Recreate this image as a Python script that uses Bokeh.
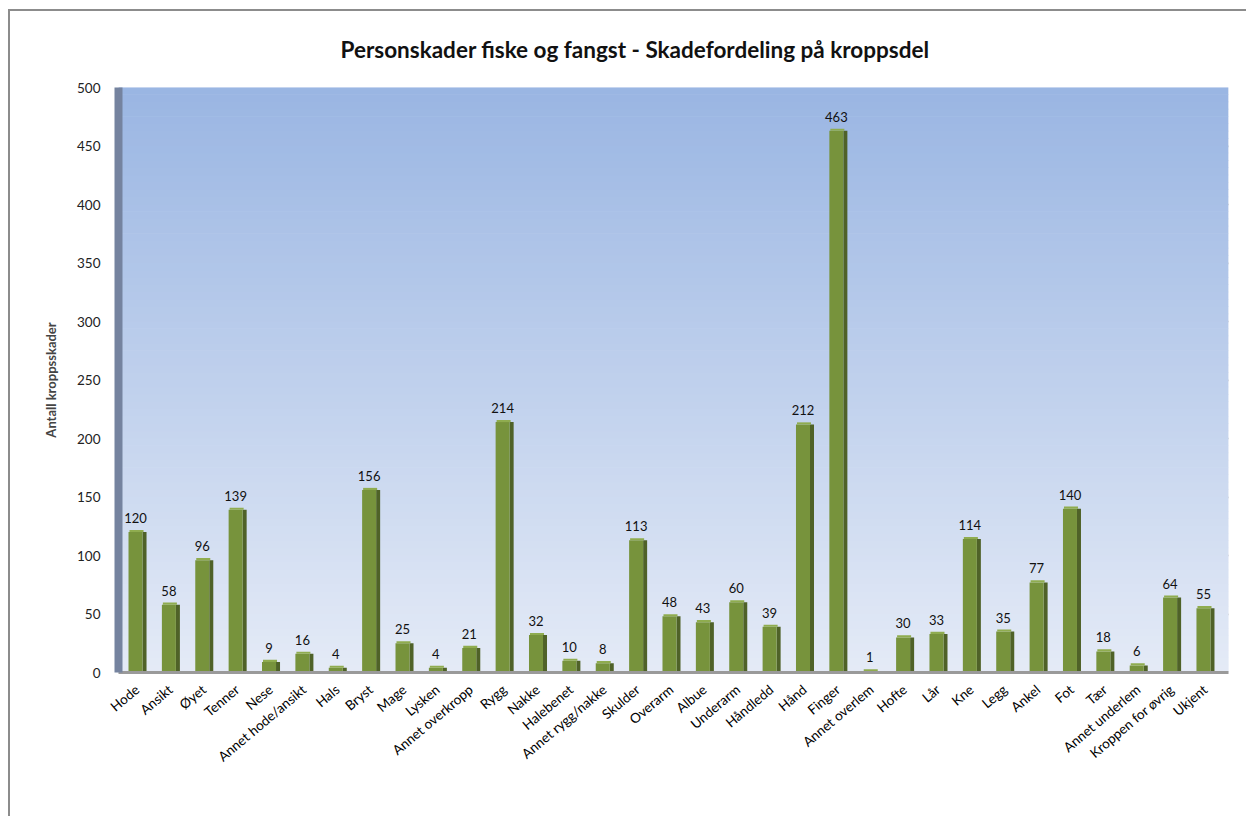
import numpy as np
from bokeh.plotting import figure
from bokeh.models import ColumnDataSource, FixedTicker, Range1d, LabelSet
from bokeh.core.properties import value
from bokeh.embed import file_html
from bokeh.resources import INLINE

categories = ["Hode", "Ansikt", "Øyet", "Tenner", "Nese", "Annet hode/ansikt", "Hals",
              "Bryst", "Mage", "Lysken", "Annet overkropp", "Rygg", "Nakke", "Halebenet",
              "Annet rygg/nakke", "Skulder", "Overarm", "Albue", "Underarm", "Håndledd",
              "Hånd", "Finger", "Annet overlem", "Hofte", "Lår", "Kne", "Legg", "Ankel",
              "Fot", "Tær", "Annet underlem", "Kroppen for øvrig", "Ukjent"]
values = [120, 58, 96, 139, 9, 16, 4, 156, 25, 4, 21, 214, 32, 10, 8, 113, 48, 43, 60,
          39, 212, 463, 1, 30, 33, 114, 35, 77, 140, 18, 6, 64, 55]
y_ticks = [0, 50, 100, 150, 200, 250, 300, 350, 400, 450, 500]

FONT = "Lato"
n = len(categories)
xs = np.arange(n)
X0, X1 = -0.56, n - 0.30

p = figure(width=1238, height=807, output_backend="svg", toolbar_location=None,
           x_range=Range1d(X0, X1), y_range=Range1d(0, 500),
           min_border_left=108, min_border_right=20, min_border_top=76, min_border_bottom=146)
p.styles = {"margin-left": "8px", "margin-top": "9px",
            "border-left": "2px solid #8c8c8c", "border-top": "2px solid #8c8c8c"}

# title
p.title.text = "Personskader fiske og fangst - Skadefordeling  på kroppsdel"
p.title.text_font = FONT
p.title.text_font_size = "22.5px"
p.title.text_font_style = "bold"
p.title.text_color = "#111111"
p.title.align = "left"
p.title.vertical_align = "top"
p.title.offset = 222
p.title.standoff = 46

# gradient background wall
bands = 80
edges = np.linspace(0, 500, bands + 1)
top_c = np.array([154, 182, 227])
bot_c = np.array([229, 235, 247])
t = (edges[:-1] + edges[1:]) / 2 / 500
cols = ["#%02x%02x%02x" % tuple((bot_c + (top_c - bot_c) * ti).astype(int)) for ti in t]
p.quad(left=X0, right=X1, bottom=edges[:-1], top=edges[1:] + 0.5,
       fill_color=cols, line_color=None, level="underlay")

p.background_fill_color = "#e6ecf7"
p.border_fill_color = "white"
p.outline_line_color = None

# grid
p.xgrid.grid_line_color = None
p.ygrid.grid_line_color = "#8a8a8a"
p.ygrid.grid_line_width = 1.6
p.ygrid.level = "image"
p.yaxis.ticker = FixedTicker(ticks=y_ticks)

# bars (3D-ish: front + side + top)
vals = np.array(values)
src = ColumnDataSource(dict(x=xs - 0.05, v=values, lab=[str(v) for v in values]))
p.vbar(x=xs + 0.22, top=vals, width=0.12, fill_color="#4f6228", line_color=None)
p.vbar(x=xs - 0.05, top=vals, width=0.42, fill_color="#77933c", line_color=None)
p.vbar(x=xs - 0.02, top=vals + 1.8, bottom=vals, width=0.42,
       fill_color="#8fac4f", line_color=None)

labels = LabelSet(x="x", y="v", text="lab", source=src, text_align="center",
                  y_offset=9, text_font_size=value("13px"), text_font=value(FONT),
                  text_color=value("#111111"))
p.add_layout(labels)

# axes
p.xaxis.ticker = FixedTicker(ticks=list(range(n)))
p.xaxis.major_label_overrides = {i: c for i, c in enumerate(categories)}
p.xaxis.major_label_orientation = 0.70
p.xaxis.major_label_text_font = FONT
p.xaxis.major_label_text_font_size = "13.5px"
p.xaxis.major_label_text_color = "#000000"
p.xaxis.major_tick_line_color = None
p.xaxis.minor_tick_line_color = None
p.xaxis.axis_line_color = "#9a9a9a"
p.xaxis.axis_line_width = 3
p.xaxis.major_label_standoff = 9

p.yaxis.axis_line_color = "#75839f"
p.yaxis.axis_line_width = 8
p.yaxis.major_tick_line_color = None
p.yaxis.minor_tick_line_color = None
p.yaxis.major_label_text_font = FONT
p.yaxis.major_label_text_font_size = "13.5px"
p.yaxis.major_label_text_color = "#222222"
p.yaxis.major_label_standoff = 12
p.yaxis.axis_label = "Antall kroppsskader"
p.yaxis.axis_label_text_font = FONT
p.yaxis.axis_label_text_font_size = "13px"
p.yaxis.axis_label_text_font_style = "bold"
p.yaxis.axis_label_standoff = 15

open("out.html", "w").write(file_html(p, INLINE))
